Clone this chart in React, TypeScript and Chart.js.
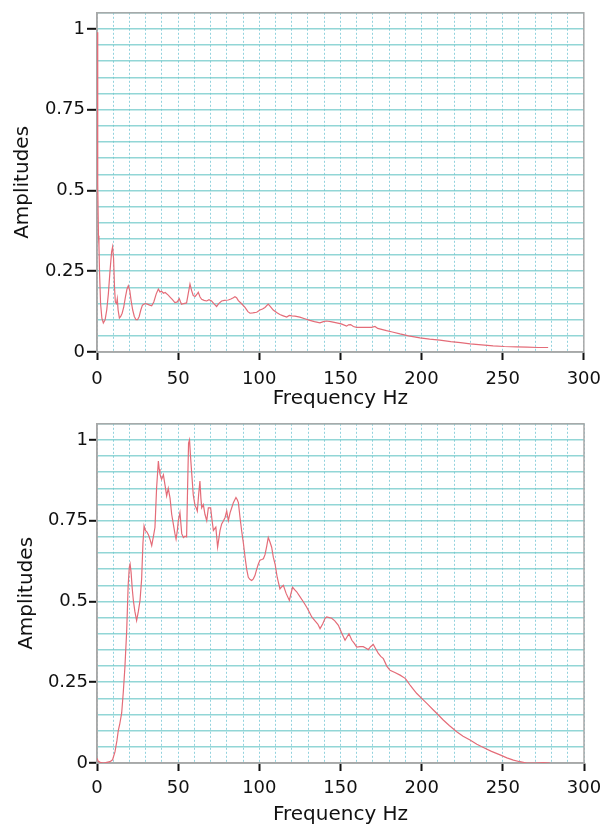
import React, { useEffect, useRef } from "react";
import { Chart, registerables } from "chart.js";

Chart.register(...registerables);

// ---------- data ----------
const topFreq = [
  0, 0.3, 0.6, 0.9, 1.2, 1.6, 2.2, 3.0, 3.9, 5.0, 6.0, 7.0, 8.0, 9.0, 9.6, 10.2, 10.8, 11.3, 12.0, 12.5,
  13.0, 13.8, 14.6, 15.5, 16.5, 17.5, 18.5, 19.3, 20.2, 21.0, 22.0, 23.0, 24.0, 25.0, 26.0, 27.0, 28.0, 29.6,
  31.0, 32.5, 33.7, 35.0, 36.5, 37.8, 38.8, 39.8, 41.0, 42.0, 43.9, 45.0, 46.5, 48.0, 49.5, 50.7, 51.5, 52.1,
  53.5, 55.2, 56.2, 57.3, 58.3, 59.3, 60.5, 61.5, 62.4, 63.5, 64.5, 66.0, 67.6, 69.0, 70.6, 72.0, 73.7, 75.0,
  76.8, 78.5, 80.9, 82.5, 84.0, 85.0, 86.0, 87.1, 89.0, 91.2, 93.0, 94.3, 96.0, 98.4, 100.4, 102.0, 103.5,
  105.5, 107.0, 108.6, 110.7, 112.7, 114.8, 116.9, 118.5, 120.0, 122.0, 125.0, 128.0, 131.2, 134.0, 137.4,
  139.5, 141.5, 144.0, 147.7, 150.5, 153.8, 155.0, 156.3, 158.0, 160.0, 165.0, 169.2, 171.3, 173.0, 178.4,
  182.0, 186.7, 192.0, 199.0, 205.0, 211.3, 218.0, 224.0, 230.0, 237.0, 244.1, 251.0, 258.5, 265.0, 272.0, 278.0,
];
const topAmp = [
  0.99, 0.75, 0.52, 0.36, 0.33, 0.24, 0.15, 0.105, 0.09, 0.1, 0.13, 0.18, 0.25, 0.31, 0.325, 0.29, 0.2, 0.155, 0.15, 0.165,
  0.13, 0.105, 0.11, 0.12, 0.14, 0.17, 0.195, 0.205, 0.19, 0.16, 0.13, 0.11, 0.1, 0.1, 0.11, 0.13, 0.145, 0.15,
  0.148, 0.145, 0.143, 0.155, 0.18, 0.195, 0.186, 0.188, 0.182, 0.184, 0.176, 0.17, 0.162, 0.153, 0.155, 0.165, 0.155, 0.148,
  0.15, 0.152, 0.18, 0.21, 0.19, 0.175, 0.172, 0.178, 0.185, 0.17, 0.163, 0.16, 0.158, 0.162, 0.158, 0.15, 0.141, 0.15,
  0.158, 0.16, 0.161, 0.164, 0.168, 0.171, 0.168, 0.159, 0.15, 0.138, 0.125, 0.12, 0.121, 0.123, 0.13, 0.133, 0.138,
  0.148, 0.14, 0.13, 0.122, 0.116, 0.112, 0.108, 0.113, 0.112, 0.111, 0.108, 0.103, 0.098, 0.094, 0.09,
  0.094, 0.096, 0.094, 0.09, 0.087, 0.08, 0.084, 0.085, 0.079, 0.076, 0.076, 0.076, 0.079, 0.073, 0.066,
  0.062, 0.056, 0.05, 0.044, 0.04, 0.037, 0.032, 0.029, 0.025, 0.022, 0.019, 0.017, 0.016, 0.015, 0.014, 0.014,
];

const bottomFreq = [
  0, 0.8, 2.0, 3.9, 6.0, 8.0, 9.6, 11.1, 12.3, 13.1, 14.0, 15.2, 16.2, 17.2, 18.3, 19.2, 19.9, 20.4, 21.0, 21.7,
  22.4, 23.3, 24.4, 25.5, 26.5, 27.5, 28.3, 29.0, 29.8, 30.8, 31.8, 32.8, 33.7, 34.7, 35.7, 36.7, 37.8, 38.3,
  38.8, 39.3, 39.8, 40.9, 41.9, 42.9, 43.9, 45.0, 46.0, 47.0, 48.0, 48.7, 49.5, 50.1, 51.1, 52.2, 53.2, 54.2,
  55.2, 55.8, 56.4, 57.0, 57.6, 58.3, 59.3, 60.4, 61.1, 61.8, 62.6, 63.4, 64.0, 64.5, 65.5, 66.5, 67.6, 68.6,
  70.0, 70.9, 71.7, 73.2, 74.3, 75.8, 76.8, 77.9, 78.9, 79.9, 80.9, 82.0, 83.0, 84.0, 85.6, 86.4, 87.1, 88.1,
  89.1, 90.2, 91.2, 92.2, 93.2, 94.3, 95.3, 96.3, 97.3, 98.4, 99.4, 100.4, 101.5, 102.5, 103.5, 104.5, 105.5,
  106.5, 107.6, 108.6, 109.7, 111.0, 112.7, 113.7, 114.8, 116.5, 118.5, 119.5, 120.5, 122.0, 123.0, 125.0,
  127.0, 129.2, 131.0, 132.3, 134.3, 136.0, 137.4, 139.0, 140.5, 141.5, 143.0, 144.6, 146.5, 148.7, 150.5,
  152.8, 154.0, 155.2, 157.0, 158.5, 160.0, 162.0, 164.0, 165.5, 167.1, 168.5, 170.2, 171.5, 173.2, 174.8,
  176.4, 178.5, 180.5, 183.5, 186.7, 189.8, 190.8, 193.0, 194.9, 197.0, 200.0, 203.5, 207.2, 210.0, 213.3,
  217.0, 221.6, 225.5, 229.8, 234.0, 238.0, 243.0, 248.3, 252.5, 256.5, 260.5, 264.7, 270.0, 275.0, 279.0,
];
const bottomAmp = [
  0.015, 0.005, 0.002, 0.0, 0.002, 0.004, 0.01, 0.035, 0.07, 0.1, 0.12, 0.155, 0.22, 0.297, 0.41, 0.55, 0.606, 0.616, 0.59, 0.54,
  0.503, 0.47, 0.441, 0.47, 0.503, 0.57, 0.68, 0.734, 0.72, 0.715, 0.705, 0.69, 0.673, 0.7, 0.729, 0.85, 0.935, 0.91,
  0.894, 0.885, 0.878, 0.892, 0.86, 0.827, 0.85, 0.82, 0.77, 0.74, 0.71, 0.693, 0.72, 0.75, 0.775, 0.71, 0.698, 0.702,
  0.7, 0.85, 0.99, 1.0, 0.95, 0.9, 0.83, 0.796, 0.79, 0.78, 0.83, 0.873, 0.82, 0.79, 0.8, 0.77, 0.75, 0.79,
  0.79, 0.75, 0.72, 0.73, 0.668, 0.72, 0.74, 0.75, 0.76, 0.78, 0.75, 0.775, 0.79, 0.806, 0.822, 0.815, 0.806, 0.76,
  0.719, 0.68, 0.637, 0.6, 0.575, 0.568, 0.565, 0.57, 0.58, 0.6, 0.616, 0.628, 0.63, 0.632, 0.645, 0.67, 0.698,
  0.685, 0.668, 0.637, 0.616, 0.575, 0.539, 0.545, 0.55, 0.525, 0.503, 0.525, 0.544, 0.535, 0.53, 0.515,
  0.5, 0.482, 0.465, 0.452, 0.44, 0.43, 0.416, 0.43, 0.448, 0.452, 0.45, 0.448, 0.44, 0.426, 0.405,
  0.38, 0.39, 0.4, 0.38, 0.37, 0.359, 0.36, 0.36, 0.356, 0.351, 0.36, 0.367, 0.355, 0.34, 0.33,
  0.323, 0.3, 0.287, 0.28, 0.272, 0.262, 0.256, 0.24, 0.228, 0.215, 0.2, 0.183, 0.164, 0.15, 0.133,
  0.116, 0.097, 0.083, 0.071, 0.058, 0.048, 0.036, 0.025, 0.016, 0.009, 0.004, 0.0, 0.0, 0.001, 0.0,
];

const xMajorTicks = [0, 50, 100, 150, 200, 250, 300];
const yMajorTicks = [0, 0.25, 0.5, 0.75, 1];
const yTickLabels = ["0", "0.25", "0.5", "0.75", "1"];
const xTitle = "Frequency Hz";
const yTitle = "Amplitudes";

// ---------- styling ----------
const FONT = "'DejaVu Sans', sans-serif";
const LINE_COLOR = "rgb(228, 108, 120)";
const HGRID = "rgba(110, 200, 200, 0.75)";
const VGRID = "rgba(110, 195, 210, 0.75)";
const FRAME = "#a8a8a8";

const isMajorX = (v: number) => xMajorTicks.some((t) => Math.abs(t - v) < 1e-6);
const majorYIndex = (v: number) => yMajorTicks.findIndex((t) => Math.abs(t - v) < 1e-6);

const framePlugin = {
  id: "frame",
  beforeDatasetsDraw(chart: any) {
    const { ctx, chartArea } = chart;
    ctx.save();
    ctx.strokeStyle = FRAME;
    ctx.lineWidth = 1.5;
    ctx.strokeRect(chartArea.left, chartArea.top, chartArea.right - chartArea.left, chartArea.bottom - chartArea.top);
    ctx.restore();
  },
};

type Layout = {
  height: number;
  xHeight: number;
  xTickLen: number;
  xTickPad: number;
  xTitlePad: number;
  yTickLen: number;
  yTickPad: number;
  yTitlePad: number;
};

function makeConfig(freq: number[], amp: number[], L: Layout): any {
  const points = freq.map((f, i) => ({ x: f, y: amp[i] }));
  return {
    type: "line",
    data: {
      datasets: [
        {
          data: points,
          borderColor: LINE_COLOR,
          borderWidth: 1.2,
          pointRadius: 0,
          tension: 0,
          fill: false,
        },
      ],
    },
    options: {
      animation: false,
      responsive: true,
      maintainAspectRatio: false,
      layout: { padding: { left: 0, right: 26, top: 10, bottom: 0 } },
      plugins: { legend: { display: false }, tooltip: { enabled: false } },
      scales: {
        x: {
          type: "linear",
          min: 0,
          max: 300,
          afterFit: (s: any) => {
            s.height = L.xHeight;
          },
          ticks: {
            stepSize: 10,
            autoSkip: false,
            maxRotation: 0,
            padding: L.xTickPad,
            color: "#111",
            font: { family: FONT, size: 18 },
            callback: (v: any) => (isMajorX(Number(v)) ? String(v) : ""),
          },
          grid: {
            color: VGRID,
            lineWidth: 1,
            drawTicks: true,
            tickLength: L.xTickLen,
            tickColor: (c: any) => (c.tick && isMajorX(c.tick.value) ? "#111" : "rgba(0,0,0,0)"),
            tickWidth: 2,
            tickBorderDash: [],
          },
          border: { display: true, color: FRAME, width: 1.5, dash: [2, 2] },
          title: {
            display: true,
            text: xTitle,
            color: "#111",
            font: { family: FONT, size: 20 },
            padding: { top: 0, bottom: L.xTitlePad },
          },
        },
        y: {
          type: "linear",
          min: 0,
          max: 1.05,
          afterFit: (s: any) => {
            s.width = 97;
          },
          ticks: {
            stepSize: 0.05,
            autoSkip: false,
            padding: L.yTickPad,
            color: "#111",
            font: { family: FONT, size: 18 },
            callback: (v: any) => {
              const i = majorYIndex(Number(v));
              return i >= 0 ? yTickLabels[i] : "";
            },
          },
          grid: {
            color: HGRID,
            lineWidth: 1.6,
            drawTicks: true,
            tickLength: L.yTickLen,
            tickColor: (c: any) => (c.tick && majorYIndex(c.tick.value) >= 0 ? "#111" : "rgba(0,0,0,0)"),
            tickWidth: 2,
          },
          border: { display: true, color: FRAME, width: 1.5 },
          title: {
            display: true,
            text: yTitle,
            color: "#111",
            font: { family: FONT, size: 20 },
            padding: { top: L.yTitlePad, bottom: 0 },
          },
        },
      },
    },
    plugins: [framePlugin],
  };
}

function SpectrumChart({ freq, amp, L }: { freq: number[]; amp: number[]; L: Layout }) {
  const ref = useRef<HTMLCanvasElement | null>(null);
  useEffect(() => {
    if (!ref.current) return;
    const chart = new Chart(ref.current, makeConfig(freq, amp, L));
    return () => chart.destroy();
  }, [freq, amp, L]);
  return (
    <div style={{ position: "relative", width: 610, height: L.height }}>
      <canvas ref={ref} />
    </div>
  );
}

const topLayout: Layout = {
  height: 412,
  xHeight: 60,
  xTickLen: 8,
  xTickPad: 9,
  xTitlePad: 1,
  yTickLen: 10,
  yTickPad: 2,
  yTitlePad: 11,
};
const bottomLayout: Layout = {
  height: 415,
  xHeight: 64,
  xTickLen: 8,
  xTickPad: 7,
  xTitlePad: 0,
  yTickLen: 8,
  yTickPad: 1,
  yTitlePad: 15,
};

export default function App() {
  return (
    <div style={{ position: "absolute", left: 0, top: 0, width: 610, height: 827, background: "#fff" }}>
      <SpectrumChart freq={topFreq} amp={topAmp} L={topLayout} />
      <SpectrumChart freq={bottomFreq} amp={bottomAmp} L={bottomLayout} />
    </div>
  );
}
